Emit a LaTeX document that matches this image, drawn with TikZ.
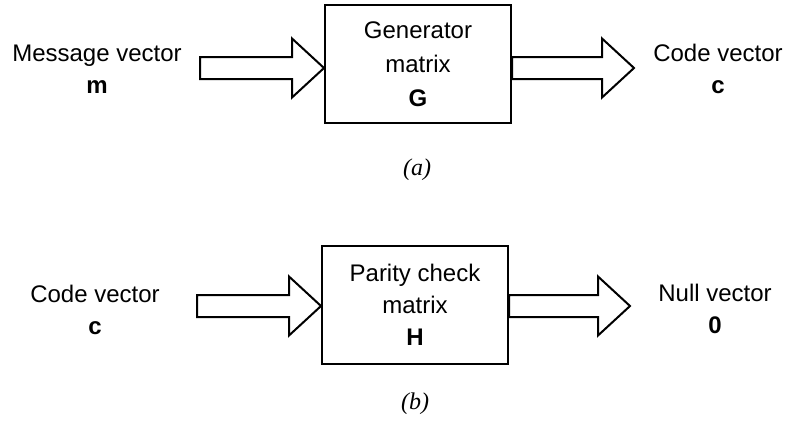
\documentclass[tikz,border=0pt]{standalone}
\usepackage{fontspec}
\setmainfont{Liberation Sans}
\newfontfamily\capfont{Liberation Serif}
\usetikzlibrary{positioning, calc}

\tikzset{
  matbox/.style={draw, line width=1pt, minimum width=93pt, minimum height=59pt, align=center, inner sep=0pt},
  vectxt/.style={align=center, font=\fontsize{12}{16}\selectfont},
  fatarrow/.style={draw, line width=1pt, fill=white, line join=miter},
  subcap/.style={font=\capfont\itshape\fontsize{12}{14}\selectfont}
}
% hollow block arrow, horizontal, from #1 to the tip #2
\newcommand{\fatarrow}[2]{%
  \draw[fatarrow] ($(#1)+(0,-11)$) -- ($(#2)+(-32,-11)$) -- ($(#2)+(-32,-29.5)$) -- (#2)
    -- ($(#2)+(-32,29.5)$) -- ($(#2)+(-32,11)$) -- ($(#1)+(0,11)$) -- cycle;}

\begin{document}
\begin{tikzpicture}[x=0.5pt, y=-0.5pt]
\useasboundingbox (0,0) rectangle (785,423);

% (a) encoding
\node[matbox, font=\fontsize{12}{17}\selectfont] (gen) at (418,64) {Generator\\matrix\\\textbf{G}};
\node[vectxt] (msg) at (97,69) {Message vector\\\textbf{m}};
\node[vectxt] (code) at (718,69) {Code vector\\\textbf{c}};
\coordinate (mtail) at (200,68);
\coordinate (ctip) at (634,68);
\fatarrow{mtail}{gen.west |- mtail}
\fatarrow{gen.east |- ctip}{ctip}
\node[subcap] (capa) at (417,170) {(a)};

% (b) parity check
\node[matbox, font=\fontsize{12}{16}\selectfont] (chk) at (415,305) {Parity check\\matrix\\\textbf{H}};
\node[vectxt] (cin) at (95,310) {Code vector\\\textbf{c}};
\node[vectxt] (null) at (715,309) {Null vector\\\textbf{0}};
\coordinate (ctail) at (197,306);
\coordinate (ntip) at (630,306);
\fatarrow{ctail}{chk.west |- ctail}
\fatarrow{chk.east |- ntip}{ntip}
\node[subcap] (capb) at (415,404) {(b)};
\end{tikzpicture}
\end{document}
